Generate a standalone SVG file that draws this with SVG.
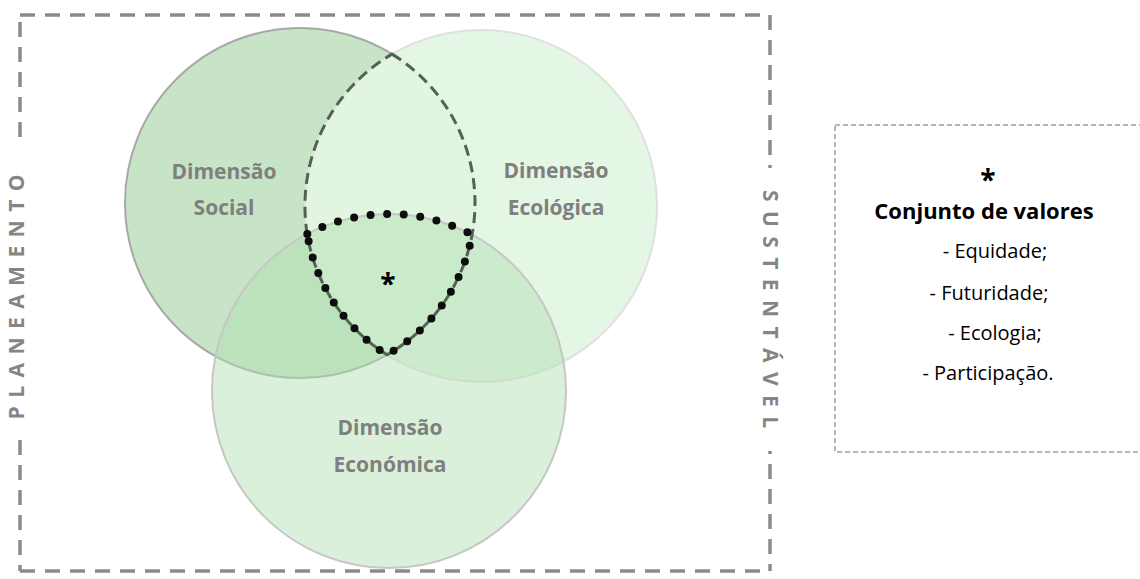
<svg xmlns="http://www.w3.org/2000/svg" width="1140" height="579" viewBox="0 0 1140 579">
  <defs>
    <style>
      .frame { fill: none; stroke: #8a8a8a; stroke-width: 3.5; stroke-dasharray: 15 10; }
      .side { fill: none; stroke: #a0a0a0; stroke-width: 1.5; stroke-dasharray: 5 3; }
      .vtext { font-family: "Open Sans", "Liberation Sans", sans-serif; font-weight: bold; font-size: 21px; fill: #858585; text-anchor: middle; }
      .dim { font-family: "Open Sans", "Liberation Sans", sans-serif; font-weight: bold; font-size: 21px; fill: #7f7f7f; text-anchor: middle; }
      .star { font-family: "Open Sans", "Liberation Sans", sans-serif; font-weight: bold; font-size: 28px; fill: #000; text-anchor: middle; }
      .boxb { font-family: "Open Sans", "Liberation Sans", sans-serif; font-weight: bold; font-size: 22px; fill: #000; text-anchor: middle; }
      .boxr { font-family: "Open Sans", "Liberation Sans", sans-serif; font-size: 20px; fill: #000; text-anchor: middle; }
    </style>
  </defs>
  <rect width="1140" height="579" fill="#ffffff"/>

  <g id="frame">
    <path class="frame" d="M20 15 H770"/>
    <path class="frame" d="M20 571 H770"/>
    <path class="frame" d="M20 22 V145"/>
    <path class="frame" d="M20 440 V571"/>
    <path class="frame" d="M770 15 V168"/>
    <path class="frame" d="M770 451 V571" stroke-dashoffset="12"/>
    <text class="vtext" transform="translate(16,297) rotate(-90)" x="0" y="7.5" textLength="245" lengthAdjust="spacing">PLANEAMENTO</text>
    <text class="vtext" transform="translate(770,309) rotate(90)" x="0" y="7.5" textLength="238" lengthAdjust="spacing">SUSTENTÁVEL</text>
  </g>

  <g id="social">
    <circle cx="300" cy="203" r="175" fill="#c7e4c7" stroke="#a8a8a8" stroke-width="2"/>
  </g>
  <g id="ecologica">
    <circle cx="481" cy="206" r="176" fill="#e3f6e3" fill-opacity="0.95" stroke="#e0e0e0" stroke-width="2"/>
  </g>
  <g id="economica">
    <circle cx="389" cy="391" r="177" fill="#b0dfb0" fill-opacity="0.47" stroke="#c6c6c6" stroke-width="2"/>
  </g>

  <g id="connectors">
    <path d="M392 54.1 A175 175 0 0 1 387 354.8 A176 176 0 0 1 392 54.1 Z" fill="none" stroke="#536353" stroke-width="3" stroke-dasharray="11 6"/>
    <path d="M307.3 234 A177 177 0 0 1 472.1 234.7 A175 175 0 0 1 387 354.8 A176 176 0 0 1 307.3 234 Z" fill="none" stroke="#0d0d0d" stroke-width="8" stroke-linecap="round" stroke-dasharray="0 16.6"/>
  </g>

  <g id="labels">
    <text class="dim" x="224" y="179">Dimensão</text>
    <text class="dim" x="224" y="215">Social</text>
    <text class="dim" x="556" y="178">Dimensão</text>
    <text class="dim" x="556" y="215">Ecológica</text>
    <text class="dim" x="390" y="435">Dimensão</text>
    <text class="dim" x="390" y="472">Económica</text>
    <text class="star" x="388" y="294">*</text>
  </g>

  <g id="values-box">
    <rect class="side" x="835" y="125" width="320" height="327"/>
    <text class="star" x="988" y="190">*</text>
    <text class="boxb" x="984" y="219">Conjunto de valores</text>
    <text class="boxr" x="995" y="258">- Equidade;</text>
    <text class="boxr" x="989" y="300">- Futuridade;</text>
    <text class="boxr" x="995" y="340">- Ecologia;</text>
    <text class="boxr" x="988" y="380">- Participação.</text>
  </g>
</svg>
